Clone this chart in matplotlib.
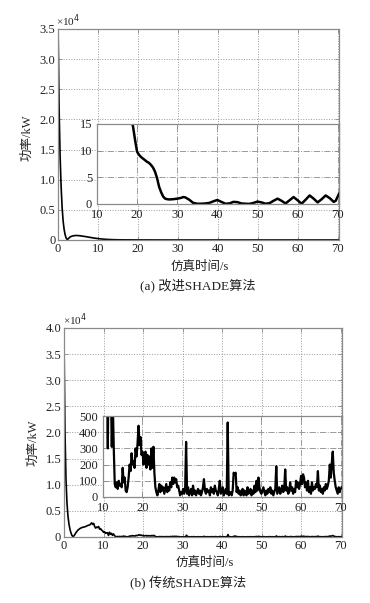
import numpy as np
import matplotlib
matplotlib.use("Agg")
import matplotlib.pyplot as plt
from matplotlib.ticker import FuncFormatter

plt.rcParams['font.family'] = ['Liberation Serif', 'Noto Sans CJK SC']
plt.rcParams['axes.unicode_minus'] = False

# (a) improved SHADE: time (s) and power (kW)
time_a = [0, 0.1, 0.25, 0.5, 0.75, 1.0, 1.25, 1.5, 1.75, 2.0, 2.3, 2.6, 3.0, 3.5,
          4.0, 4.5, 5.0, 5.5, 6.0, 7.0, 8.0, 9.0, 10.0, 11.0, 12.0, 13.0, 14.0,
          15.0, 16.0, 17.0, 18.0, 18.5, 19.0, 19.5, 20.0, 20.5, 21.0, 21.5, 22.0,
          22.5, 23.0, 23.5, 24.0, 24.5, 25.0, 25.5, 26.0, 26.5, 27.0, 27.5, 28.0,
          29.0, 30.0, 31.0, 31.5, 32.0, 33.0, 34.0, 35.0, 36.0, 37.0, 38.0, 39.0,
          40.0, 41.0, 42.0, 43.0, 44.0, 45.0, 46.0, 47.0, 48.0, 49.0, 50.0, 51.0,
          52.0, 53.0, 54.0, 55.0, 56.0, 57.0, 58.0, 59.0, 60.0, 61.0, 62.0, 63.0,
          64.0, 65.0, 66.0, 67.0, 68.0, 69.0, 69.5, 70.0, 70.3]
power_a = [35000, 30000, 22000, 14000, 9000, 5500, 3200, 1800, 900, 350, 50, 250,
           500, 650, 720, 750, 730, 700, 650, 550, 430, 320, 230, 160, 110, 75, 50,
           35, 25, 20, 17, 16, 14.5, 12, 9.8, 9.2, 8.8, 8.5, 8.2,
           7.9, 7.7, 7.3, 6.8, 6.0, 4.8, 3.2, 2.2, 1.4, 1.0, 0.9, 0.85,
           0.9, 1.0, 1.15, 1.3, 1.25, 0.8, 0.2, 0.05, 0.05, 0.1, 0.2, 0.5,
           0.75, 0.4, 0.05, 0.1, 0.4, 0.35, 0.1, 0.05, 0.02, 0.2, 0.45, 0.3,
           0.05, 0.15, 0.6, 1.0, 0.6, 0.1, 0.7, 1.3, 0.7, 0.05, 0.8, 1.6,
           1.0, 0.3, 0.9, 1.6, 1.1, 0.4, 0.6, 1.4, 1.9]

# (b) traditional SHADE: start-up part (t < 11 s)
time_b_start = [0, 0.1, 0.25, 0.5, 0.75, 1.0, 1.25, 1.5, 1.75, 2.0, 2.3, 2.6, 3.0,
                3.5, 4.0, 4.5, 5.0, 5.5, 6.0, 6.5, 7.0, 7.25, 7.5, 7.75, 8.0, 8.25,
                8.5, 8.75, 9.0, 9.25, 9.5, 9.75, 10.0, 10.25, 10.5, 10.75]
power_b_start = [37500, 30000, 20000, 11000, 6500, 4000, 2500, 1500, 800, 300, 50,
                 300, 800, 1300, 1600, 1800, 1900, 2000, 2200, 2300, 2700, 2400,
                 2600, 2000, 1700, 1900, 1800, 2000, 1500, 1600, 1300, 1200, 900,
                 1000, 700, 800]
# (b) from 11 s on, one sample every 0.25 s
power_b_rest = [
    800, 300, 900, 520,   700, 310, 600, 300,   80, 60, 90, 50,
    100, 70, 80, 60,      180, 90, 120, 40,     30, 60, 120, 200,
    160, 270, 200, 220,   180, 300, 250, 330,   440, 320, 370, 260,
    280, 200, 250, 280,   180, 260, 200, 250,   170, 300, 180, 310,
    150, 60, 30, 10,      40, 80, 30, 70,       40, 60, 20, 50,
    80, 30, 60, 40,       90, 60, 120, 80,      120, 90, 110, 60,
    70, 40, 10, 30,       20, 50, 20, 40,       340, 20, 60, 10,
    30, 50, 10, 70,       20, 40, 10, 30,       50, 20, 40, 10,
    30, 60, 110, 40,      20, 50, 30, 40,       10, 60, 30, 50,
    20, 70, 40, 30,       10, 50, 100, 20,      40, 60, 10, 30,
    50, 20, 460, 10,      20, 30, 10, 40,       150, 140, 150, 30,
    60, 20, 40, 10,       20, 50, 10, 40,       20, 10, 60, 20,
    30, 50, 10, 40,       20, 70, 30, 100,      40, 120, 60, 30,
    20, 40, 60, 30,       10, 40, 20, 50,       30, 60, 20, 40,
    10, 30, 50, 190,      20, 40, 60, 20,       40, 70, 30, 50,
    170, 40, 60, 20,      30, 90, 40, 60,       20, 50, 30, 100,
    60, 90, 50, 80,       130, 80, 140, 120,    60, 90, 40, 100,
    30, 60, 20, 90,       40, 60, 50, 80,       60, 160, 40, 70,
    30, 50, 20, 60,       40, 80, 50, 70,       100, 200, 120, 210,
    280, 150, 100, 60,    40, 20, 60, 30,       50, 60]
time_b_rest = list(11 + 0.25 * np.arange(len(power_b_rest)))
time_b = time_b_start + time_b_rest
power_b = power_b_start + power_b_rest

x_ticks = [0, 10, 20, 30, 40, 50, 60, 70]
inset_x_ticks = [10, 20, 30, 40, 50, 60, 70]

GRID = '#9a9a9a'
SPINE = '#8a8a8a'
TXT = '#222222'
FS = 9


def style_axes(ax, grid_style=':', pad=2):
    for s in ax.spines.values():
        s.set_color(SPINE)
        s.set_linewidth(0.9)
    ax.tick_params(direction='in', length=3, width=0.6, colors=SPINE,
                   labelcolor=TXT, labelsize=FS, top=True, right=True, pad=pad)
    ax.grid(True, color=GRID, linestyle=grid_style, linewidth=0.7)


def e4_fmt(v, pos):
    if v == 0:
        return '0'
    return '%.1f' % (v / 1e4)


fig = plt.figure(figsize=(3.7, 6.03), dpi=100)

# ---------- panel (a)
ax_a = fig.add_axes([0.157, 0.602, 0.759, 0.350])
ax_a.plot(time_a, power_a, color='black', linewidth=1.2)
ax_a.set_xlim(0, 70.3)
ax_a.set_ylim(0, 35000)
ax_a.set_xticks(x_ticks)
ax_a.set_yticks(np.arange(0, 35001, 5000))
ax_a.yaxis.set_major_formatter(FuncFormatter(e4_fmt))
style_axes(ax_a)
fig.text(56 / 370, 1 - 21 / 603, '×10$^4$', fontsize=8, color=TXT, va='center')
fig.text(27 / 370, 1 - 138 / 603, '功率/kW', rotation=90, fontsize=FS, color=TXT,
         ha='center', va='center')
fig.text(200 / 370, 1 - 267 / 603, '仿真时间/s', fontsize=FS, color=TXT,
         ha='center', va='center')
fig.text(198 / 370, 1 - 286 / 603, '(a) 改进SHADE算法', fontsize=9.5, color=TXT,
         ha='center', va='center')

ins_a = fig.add_axes([0.262, 0.6617, 0.654, 0.1327])
ins_a.plot(time_a, power_a, color='black', linewidth=1.8)
ins_a.set_xlim(10, 70.3)
ins_a.set_ylim(0, 15)
ins_a.set_xticks(inset_x_ticks)
ins_a.set_yticks([0, 5, 10, 15])
style_axes(ins_a, '-.', pad=3.5)

# ---------- panel (b)
ax_b = fig.add_axes([0.173, 0.1095, 0.751, 0.3466])
ax_b.plot(time_b, power_b, color='black', linewidth=1.2)
ax_b.set_xlim(0, 70.3)
ax_b.set_ylim(0, 40000)
ax_b.set_xticks(x_ticks)
ax_b.set_yticks(np.arange(0, 40001, 5000))
ax_b.yaxis.set_major_formatter(FuncFormatter(e4_fmt))
style_axes(ax_b)
fig.text(63 / 370, 1 - 320 / 603, '×10$^4$', fontsize=8, color=TXT, va='center')
fig.text(33 / 370, 1 - 443 / 603, '功率/kW', rotation=90, fontsize=FS, color=TXT,
         ha='center', va='center')
fig.text(205 / 370, 1 - 563 / 603, '仿真时间/s', fontsize=FS, color=TXT,
         ha='center', va='center')
fig.text(188 / 370, 1 - 583 / 603, '(b) 传统SHADE算法', fontsize=9.5, color=TXT,
         ha='center', va='center')

ins_b = fig.add_axes([0.278, 0.1758, 0.646, 0.1343])
ins_b.plot(time_b, power_b, color='black', linewidth=1.6)
ins_b.set_xlim(10, 70.3)
ins_b.set_ylim(0, 500)
ins_b.set_xticks(inset_x_ticks)
ins_b.set_yticks(np.arange(0, 501, 100))
style_axes(ins_b, '-.', pad=3.5)

fig.savefig('out.png', dpi=100, facecolor='white')
